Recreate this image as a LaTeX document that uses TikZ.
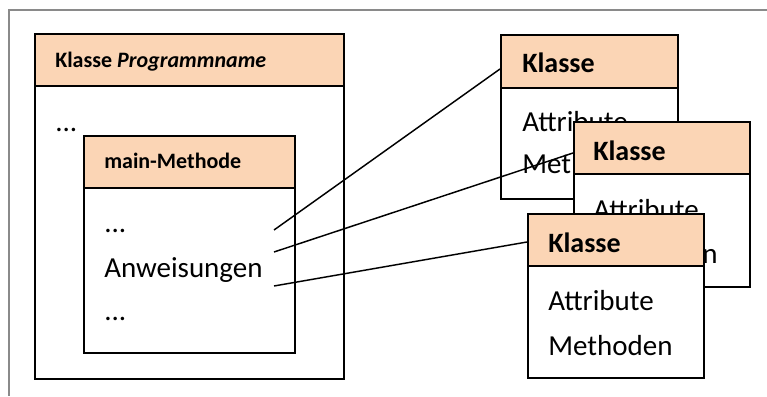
\documentclass[tikz,border=0pt]{standalone}
\usepackage{fontspec}
\setmainfont{Carlito}
\definecolor{hdrfill}{HTML}{FBD5B5}
\definecolor{framegray}{HTML}{8A8A8A}
\tikzset{
  px/.style={x=0.75pt,y=-0.75pt},
  hdr/.style={draw=black,line width=1.5pt,fill=hdrfill,anchor=north west,inner sep=0pt},
  bodybox/.style={draw=black,line width=1.5pt,fill=white,anchor=north west,inner sep=0pt},
  txt/.style={anchor=base west,inner sep=0pt,font=\fontsize{21.75pt}{24pt}\selectfont},
  htxt/.style={anchor=base west,inner sep=0pt,font=\fontsize{21pt}{24pt}\selectfont\bfseries},
  stxt/.style={anchor=base west,inner sep=0pt,font=\fontsize{16.5pt}{19pt}\selectfont\bfseries},
  link/.style={draw=black,line width=1.1pt}
}
\begin{document}
\begin{tikzpicture}[px]
\useasboundingbox (0,0) rectangle (767,396);
% outer gray frame (top and left edges)
\coordinate (fTR) at (767,10);
\coordinate (fTL) at (9,10);
\coordinate (fBL) at (9,396);
\draw[framegray,line width=1.5pt] (fTR) -- (fTL) -- (fBL);
% big class
\node[bodybox,minimum width=309*0.75pt,minimum height=293*0.75pt] (bigB) at (34,85) {};
\node[hdr,minimum width=309*0.75pt,minimum height=52*0.75pt] (bigH) at (34,33) {};
\node[stxt] (bigT) at (55,67) {Klasse \textit{Programmname}};
\node[txt] (bigD) at (55,131) {...};
% main method
\node[bodybox,minimum width=211*0.75pt,minimum height=165*0.75pt] (mainB) at (83,187) {};
\node[hdr,minimum width=211*0.75pt,minimum height=52*0.75pt] (mainH) at (83,135) {};
\node[stxt] (mainT) at (104,168) {main-Methode};
\node[txt] (d1) at (104,232) {...};
\node[txt] (anw) at (104,277) {Anweisungen};
\node[txt] (d2) at (104,320) {...};
% class 1
\node[bodybox,minimum width=177*0.75pt,minimum height=111*0.75pt] (c1B) at (500,87) {};
\node[hdr,minimum width=177*0.75pt,minimum height=53*0.75pt] (c1H) at (500,34) {};
\node[htxt] (c1T) at (522,72) {Klasse};
\node[txt] (c1A) at (522,131) {Attribute};
\node[txt] (c1M) at (522,173) {Methoden};
% connectors
\coordinate (s1) at (274,230);
\coordinate (s2) at (274,252);
\coordinate (s3) at (274,286);
\coordinate (c2L) at (573,153);
\draw[link] (s1) -- ([yshift=-7.5*0.75pt]c1H.west);
\draw[link] (s2) -- (c2L);
% class 2
\node[bodybox,minimum width=176*0.75pt,minimum height=113*0.75pt] (c2B) at (573,173) {};
\node[hdr,minimum width=176*0.75pt,minimum height=52*0.75pt] (c2H) at (573,121) {};
\node[htxt] (c2T) at (593,160) {Klasse};
\node[txt] (c2A) at (593,219) {Attribute};
\node[txt] (c2M) at (593,263) {Methoden};
% class 3
\node[bodybox,minimum width=176*0.75pt,minimum height=112*0.75pt] (c3B) at (527,265) {};
\node[hdr,minimum width=176*0.75pt,minimum height=52*0.75pt] (c3H) at (527,213) {};
\node[htxt] (c3T) at (548,252) {Klasse};
\node[txt] (c3A) at (548,310) {Attribute};
\node[txt] (c3M) at (548,355) {Methoden};
\draw[link] (s3) -- ([yshift=-2*0.75pt]c3H.west);
\end{tikzpicture}
\end{document}
